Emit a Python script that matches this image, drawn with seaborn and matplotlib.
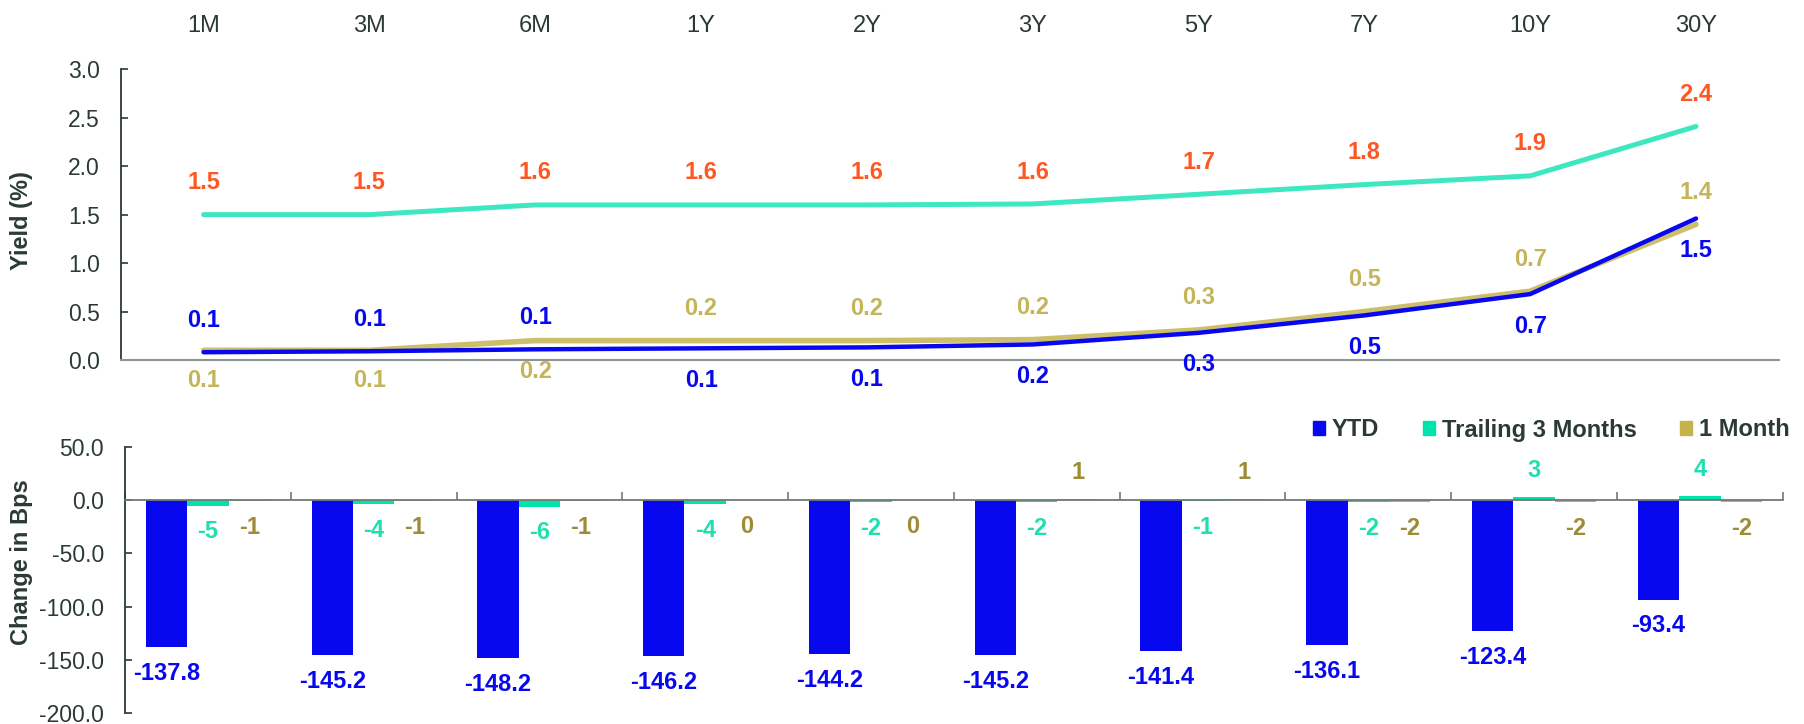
import numpy as np
import pandas as pd
import seaborn as sns
import matplotlib.pyplot as plt
from matplotlib.patches import Patch

sns.set_theme(style="white")
plt.rcParams['font.family'] = ['Liberation Sans', 'DejaVu Sans']

# data
tenors = ["1M", "3M", "6M", "1Y", "2Y", "3Y", "5Y", "7Y", "10Y", "30Y"]
yield_now = [0.08, 0.09, 0.11, 0.12, 0.13, 0.16, 0.28, 0.46, 0.68, 1.46]
yield_1m = [0.10, 0.10, 0.20, 0.20, 0.20, 0.21, 0.31, 0.50, 0.71, 1.40]
yield_start = [1.50, 1.50, 1.60, 1.60, 1.60, 1.61, 1.71, 1.81, 1.90, 2.41]

chg_ytd = [-137.8, -145.2, -148.2, -146.2, -144.2, -145.2, -141.4, -136.1, -123.4, -93.4]
chg_3m = [-5, -4, -6, -4, -2, -2, -1, -2, 3, 4]
chg_1m = [-1, -1, -1, 0, 0, 1, 1, -2, -2, -2]
series_names = ["YTD", "Trailing 3 Months", "1 Month"]

# colours
TXT = "#2B3A33"
BLUE = "#0808F0"
TURQ_LINE = "#3DE8C0"
GOLD_LINE = "#CDBE6A"
BAR_COLORS = ["#0808F0", "#00E3AA", "#C4B24A"]
ORANGE = "#FF5722"
GOLD_TXT = "#C4B45A"
GOLD_TXT2 = "#9E8B35"
TURQ_TXT = "#1FDFB0"

fig = plt.figure(figsize=(18.04, 7.24), dpi=100)
ax1 = fig.add_axes([0.0669, 0.5028, 0.9192, 0.4015])
ax2 = fig.add_axes([0.0693, 0.0152, 0.9189, 0.3674])

# ---- top: yield curves
x = np.arange(len(tenors))
sns.lineplot(x=x, y=yield_start, ax=ax1, color=TURQ_LINE, lw=3.6)
sns.lineplot(x=x, y=yield_1m, ax=ax1, color=GOLD_LINE, lw=4)
sns.lineplot(x=x, y=yield_now, ax=ax1, color=BLUE, lw=3.2)

lab_kw = dict(textcoords="offset points", ha="center", va="center",
              fontsize=17, fontweight="bold")
for i in range(len(tenors)):
    ax1.annotate(f"{yield_start[i]:.1f}", (x[i], yield_start[i]), xytext=(0, 23),
                 color=ORANGE, **lab_kw)
    up = i < 3
    ax1.annotate(f"{yield_now[i]:.1f}", (x[i], yield_now[i]),
                 xytext=(0, 23 if up else -23), color=BLUE, **lab_kw)
    ax1.annotate(f"{yield_1m[i]:.1f}", (x[i], yield_1m[i]),
                 xytext=(0, -22 if up else 23), color=GOLD_TXT, **lab_kw)

ax1.set_xlim(-0.5, len(tenors) - 0.5)
ax1.set_ylim(0, 3.0)
ax1.set_yticks(np.arange(0, 3.01, 0.5))
ax1.yaxis.set_major_formatter(plt.FormatStrFormatter("%.1f"))
ax1.xaxis.tick_top()
ax1.set_xticks(x, tenors)
ax1.tick_params(axis="x", length=0, pad=23, labelsize=17, colors=TXT)
ax1.tick_params(axis="y", direction="in", length=5, width=1.2, left=True,
                labelsize=16.5, colors=TXT, pad=15)
for s in ["top", "right"]:
    ax1.spines[s].set_visible(False)
ax1.spines["left"].set_color(TXT)
ax1.spines["left"].set_linewidth(1.3)
ax1.spines["bottom"].set_color("#8C9593")
ax1.spines["bottom"].set_linewidth(1.5)
ax1.set_ylabel("Yield (%)", fontsize=17, fontweight="bold", color=TXT)
ax1.yaxis.set_label_coords(-0.053, 0.478)

# ---- bottom: changes in bps
df = pd.DataFrame({
    "tenor": tenors * 3,
    "series": np.repeat(series_names, len(tenors)),
    "bps": chg_ytd + chg_3m + chg_1m,
})
sns.barplot(data=df, x="tenor", y="bps", hue="series", order=tenors,
            hue_order=series_names, palette=BAR_COLORS, width=0.75,
            linewidth=0, saturation=1, legend=False, ax=ax2)

txt_colors = [BLUE, TURQ_TXT, GOLD_TXT2]
vals = [chg_ytd, chg_3m, chg_1m]
for k, cont in enumerate(ax2.containers):
    for i, bar in enumerate(cont.patches):
        v = vals[k][i]
        cx = bar.get_x() + bar.get_width() / 2
        lbl = f"{v:.1f}" if k == 0 else f"{v:.0f}"
        ax2.annotate(lbl, (cx, v), xytext=(0, 19 if v > 0 else -19),
                     textcoords="offset points", ha="center", va="center",
                     fontsize=17, fontweight="bold", color=txt_colors[k])

ax2.set_xlim(-0.5, len(tenors) - 0.5)
ax2.set_ylim(-200, 50)
ax2.set_yticks(np.arange(-200, 51, 50))
ax2.yaxis.set_major_formatter(plt.FormatStrFormatter("%.1f"))
ax2.set_xticks(np.arange(len(tenors) + 1) - 0.5, [""] * (len(tenors) + 1))
ax2.spines["bottom"].set_position(("data", 0))
ax2.spines["bottom"].set_color("#6E7B75")
ax2.spines["bottom"].set_linewidth(1.3)
ax2.spines["left"].set_color(TXT)
ax2.spines["left"].set_linewidth(1.3)
for s in ["top", "right"]:
    ax2.spines[s].set_visible(False)
ax2.tick_params(axis="x", direction="in", length=6, width=1.2, bottom=True,
                colors="#6E7B75")
ax2.tick_params(axis="y", direction="in", length=5, width=1.2, left=True,
                labelsize=16.5, colors=TXT, pad=15)
ax2.set_xlabel("")
ax2.set_ylabel("Change in Bps", fontsize=17, fontweight="bold", color=TXT)
ax2.yaxis.set_label_coords(-0.0555, 0.568)

handles = [Patch(color=c, label=n) for c, n in zip(BAR_COLORS, series_names)]
leg = fig.legend(handles=handles, loc="center right", bbox_to_anchor=(1.0, 1 - 430 / 724),
                 ncol=3, frameon=False, handlelength=0.5, handleheight=0.5,
                 handletextpad=0.3, columnspacing=1.85, borderpad=0.1,
                 prop={"size": 17, "weight": "bold"})
for t in leg.get_texts():
    t.set_color(TXT)

fig.savefig("out.png", dpi=100)
